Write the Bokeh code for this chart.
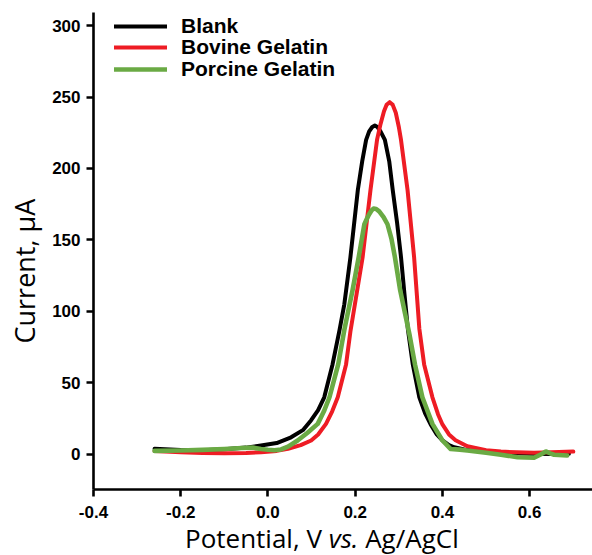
from bokeh.plotting import figure
from bokeh.models import Range1d, FixedTicker, Legend, LegendItem, Div, Title
from bokeh.layouts import column
from bokeh.embed import file_html
from bokeh.resources import INLINE

# ---- data ----
blank_v = [-0.26, -0.2, -0.15, -0.1, -0.05, -0.016, 0.02, 0.053, 0.08, 0.099, 0.115, 0.129,
           0.148, 0.164, 0.175, 0.189, 0.206, 0.216, 0.225, 0.232, 0.239, 0.245, 0.251, 0.258,
           0.268, 0.278, 0.286, 0.296, 0.305, 0.313, 0.321, 0.332, 0.347, 0.36, 0.373, 0.387,
           0.40, 0.415, 0.427, 0.45, 0.5, 0.55, 0.6, 0.65, 0.69]
blank_i = [4, 3.2, 3, 3.6, 4.8, 6.3, 8, 12, 17, 24, 31, 40,
           63, 87, 105, 138, 185, 205, 220, 226, 229, 230, 229, 226,
           220, 205, 185, 162, 138, 112, 87, 63, 40, 29, 21, 14,
           9.8, 6.5, 5, 3.5, 2, 1, 0.5, 0.4, 0.5]

bovine_v = [-0.26, -0.2, -0.15, -0.1, -0.05, -0.016, 0.02, 0.046, 0.075, 0.099, 0.115, 0.133,
            0.147, 0.16, 0.179, 0.189, 0.203, 0.217, 0.235, 0.25, 0.258, 0.266, 0.272, 0.279,
            0.286, 0.293, 0.3, 0.305, 0.32, 0.335, 0.347, 0.358, 0.377, 0.39, 0.40, 0.415,
            0.43, 0.457, 0.5, 0.534, 0.57, 0.61, 0.65, 0.70]
bovine_i = [2.5, 1.5, 1, 0.8, 1, 1.6, 2.5, 4, 6.5, 9.8, 14, 21.4,
            30, 40, 63, 86, 112, 138, 185, 220, 231, 240, 244.5, 246.4,
            244.5, 239, 229, 220, 185, 138, 88, 63, 40, 28, 21, 14,
            10, 5.8, 3, 2, 1.5, 1.2, 1.5, 2]

porcine_v = [-0.26, -0.2, -0.15, -0.1, -0.06, -0.035, -0.016, 0.0, 0.015, 0.03, 0.046, 0.068,
             0.09, 0.114, 0.128, 0.141, 0.161, 0.175, 0.194, 0.208, 0.221, 0.227, 0.232, 0.237,
             0.242, 0.248, 0.255, 0.265, 0.274, 0.283, 0.291, 0.303, 0.314, 0.325, 0.337, 0.354,
             0.377, 0.40, 0.419, 0.44, 0.457, 0.5, 0.534, 0.572, 0.61, 0.625, 0.637, 0.647,
             0.656, 0.686]
porcine_i = [2.5, 2.8, 3.2, 3.8, 4.5, 4.8, 3.8, 3.3, 3.0, 3.5, 5.5, 9.8,
             15, 21.4, 30, 40, 63, 87, 115, 138, 161, 165, 168, 170.5,
             172, 171.7, 170, 166, 161, 151, 138, 115, 99, 83, 63, 40,
             21.4, 9.8, 3.8, 3.4, 2.8, 1.2, -0.2, -1.9, -2.3, 0, 2.1, 0.8,
             -0.2, -0.7]

series_names = ["Blank", "Bovine Gelatin", "Porcine Gelatin"]
series_colors = ["#000000", "#ee1c24", "#6aaa44"]

x_ticks = [-0.4, -0.2, 0.0, 0.2, 0.4, 0.6]
x_tick_labels = ["-0.4", "-0.2", "0.0", "0.2", "0.4", "0.6"]
y_ticks = [0, 50, 100, 150, 200, 250, 300]
y_tick_labels = ["0", "50", "100", "150", "200", "250", "300"]

y_title = "Current, μA"
x_title_html = "Potential, V <i>vs.</i> Ag/AgCl"

# ---- figure ----
p = figure(width=592, height=525, output_backend="svg", toolbar_location=None,
           x_range=Range1d(-0.4, 0.744), y_range=Range1d(-24.5, 309.1),
           min_border_left=92, min_border_right=0, min_border_top=12, min_border_bottom=36)
p.outline_line_color = None
p.grid.visible = False
p.background_fill_color = "white"
p.border_fill_color = "white"

for ax in (p.xaxis[0], p.yaxis[0]):
    ax.axis_line_width = 2.6
    ax.axis_line_color = "black"
    ax.major_tick_line_width = 2.6
    ax.major_tick_line_color = "black"
    ax.major_tick_out = 7
    ax.major_tick_in = 0
    ax.minor_tick_out = 0
    ax.minor_tick_in = 0
    ax.major_label_text_font = "Liberation Sans"
    ax.major_label_text_font_style = "bold"
    ax.major_label_text_font_size = "17px"
    ax.major_label_text_color = "black"

p.xaxis.ticker = FixedTicker(ticks=x_ticks)
p.xaxis.major_label_overrides = dict(zip(x_ticks, x_tick_labels))
p.xaxis.major_label_standoff = 9
p.yaxis.ticker = FixedTicker(ticks=y_ticks)
p.yaxis.major_label_overrides = dict(zip(y_ticks, y_tick_labels))
p.yaxis.major_label_standoff = 6

p.add_layout(Title(text=y_title, align="left", offset=146, standoff=10, vertical_align="top",
                   text_font="Open Sans", text_font_size="27px", text_font_style="normal",
                   text_color="black"), "left")

widths = [4, 4, 4.6]
renderers = []
for v, i, c, w in zip([blank_v, bovine_v, porcine_v], [blank_i, bovine_i, porcine_i],
                      series_colors, widths):
    r = p.line(v, i, line_color=c, line_width=w, line_join="round", line_cap="round")
    renderers.append(r)

leg_y = [451, 430, 408]
for n, r, ly in zip(series_names, renderers, leg_y):
    lg = Legend(items=[LegendItem(label=n, renderers=[r])], location=(21, ly),
                glyph_width=53, glyph_height=20, label_height=20, spacing=0,
                padding=0, margin=0, label_standoff=14,
                border_line_color=None, background_fill_alpha=0,
                label_text_font="Liberation Sans", label_text_font_style="bold",
                label_text_font_size="21px", label_text_color="black")
    p.add_layout(lg)

xtitle = Div(text=x_title_html, width=592, height=30, margin=(0, 0, 0, 0),
             styles={"font-family": "Open Sans", "font-size": "26px", "color": "black",
                     "padding-left": "185px", "line-height": "26px", "white-space": "nowrap"})

layout = column(p, xtitle, spacing=0)
open("out.html", "w").write(file_html(layout, INLINE))
